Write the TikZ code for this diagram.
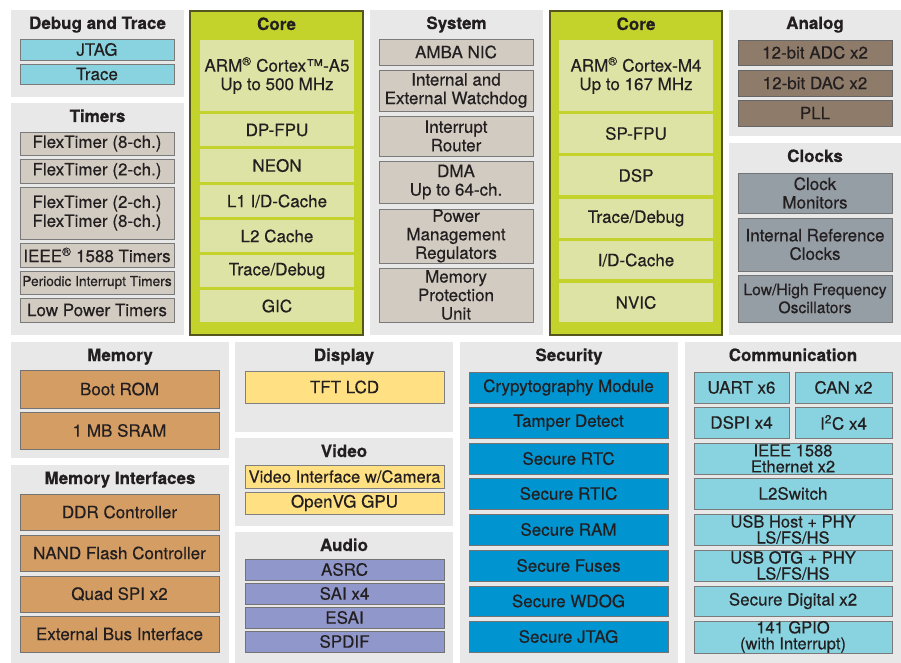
\documentclass[tikz,border=0pt]{standalone}
\usepackage{fontspec}
\setmainfont{TeX Gyre Heros}[FakeBold=0.4]
\definecolor{panelgray}{HTML}{E8E8E8}
\definecolor{ink}{HTML}{231F20}
\definecolor{boxline}{HTML}{7A7A7A}
\definecolor{cyanc}{HTML}{88D3DF}
\definecolor{taupe}{HTML}{D2CBC2}
\definecolor{coregreen}{HTML}{C4D22C}
\definecolor{corelight}{HTML}{DDE3A5}
\definecolor{coreline}{HTML}{55551E}
\definecolor{anabrown}{HTML}{8E7B69}
\definecolor{clkgray}{HTML}{959DA5}
\definecolor{memorange}{HTML}{D49D64}
\definecolor{dispyellow}{HTML}{FFE183}
\definecolor{audpurple}{HTML}{9097CB}
\definecolor{secblue}{HTML}{0094D0}

\begin{document}
\begin{tikzpicture}[x=1pt,y=-1pt,
  cell/.style n args={4}{at={(#1,#2)},anchor=north west,minimum width={#3-#1},minimum height={#4-#2}},
  panel/.style={fill=panelgray,inner sep=0,outer sep=0},
  core/.style={panel,fill=coregreen,draw=coreline,line width=1.2pt},
  head/.style={anchor=base,text=ink,font=\bfseries\fontsize{17}{18}\selectfont},
  box/.style={draw=boxline,line width=0.6pt,inner sep=0,outer sep=0,align=center,text=ink,
    font=\fontsize{17}{18.5}\selectfont},
  tight/.style={font=\fontsize{16.5}{16}\selectfont},
  cyanbox/.style={box,fill=cyanc},
  taupebox/.style={box,fill=taupe},
  corebox/.style={box,draw=none,fill=corelight},
  anabox/.style={box,fill=anabrown,draw=black!60},
  clkbox/.style={box,fill=clkgray,draw=black!55},
  membox/.style={box,fill=memorange,draw=black!55},
  dispbox/.style={box,fill=dispyellow,draw=black!50},
  audbox/.style={box,fill=audpurple,draw=black!55},
  secbox/.style={box,fill=secblue,draw=black!55},
]
\useasboundingbox (0,0) rectangle (901,663);

% top row panels
\node[panel,cell={11}{10}{184}{97}] (pDebug) {};
\node[panel,cell={11}{103}{184}{335}] (pTimers) {};
\node[core,cell={190}{11}{363}{335}] (pCoreA) {};
\node[panel,cell={370}{10}{543}{335}] (pSystem) {};
\node[core,cell={550}{11}{722}{335}] (pCoreM) {};
\node[panel,cell={729}{10}{901}{136}] (pAnalog) {};
\node[panel,cell={729}{143}{901}{335}] (pClocks) {};
% bottom row panels
\node[panel,cell={11}{342}{229}{458}] (pMemory) {};
\node[panel,cell={11}{465}{229}{663}] (pMemIf) {};
\node[panel,cell={235}{342}{453}{432}] (pDisplay) {};
\node[panel,cell={235}{438}{453}{526}] (pVideo) {};
\node[panel,cell={235}{532}{453}{663}] (pAudio) {};
\node[panel,cell={460}{342}{678}{663}] (pSecurity) {};
\node[panel,cell={685}{342}{901}{663}] (pComm) {};

\foreach \p/\t in {pDebug/Debug and Trace, pTimers/Timers, pCoreA/Core, pSystem/System,
  pCoreM/Core, pAnalog/Analog, pClocks/Clocks, pMemory/Memory, pMemIf/Memory Interfaces,
  pDisplay/Display, pVideo/Video, pAudio/Audio, pSecurity/Security, pComm/Communication}
  \node[head] (t\p) at ([yshift=-19pt]\p.north) {\t};

% Debug and Trace
\node[cyanbox,cell={20}{39}{174}{60}] (jtag) {JTAG};
\node[cyanbox,cell={20}{64}{174}{84}] (trace) {Trace};

% Timers
\node[taupebox,cell={20}{132}{174}{155}] (ftA) {FlexTimer (8-ch.)};
\node[taupebox,cell={20}{159}{174}{183}] (ftB) {FlexTimer (2-ch.)};
\node[taupebox,cell={20}{187}{174}{239},font=\fontsize{17}{19}\selectfont] (ftC) {FlexTimer (2-ch.)\\FlexTimer (8-ch.)};
\node[taupebox,cell={20}{243}{174}{267}] (ieeetmr) {IEEE\textsuperscript{®} 1588 Timers};
\node[taupebox,cell={20}{271}{174}{294},font=\fontsize{13.7}{15}\selectfont] (pit) {Periodic Interrupt Timers};
\node[taupebox,cell={20}{298}{174}{322}] (lpt) {Low Power Timers};

% Core A5
\node[corebox,cell={200}{40}{354}{111}] (a5) {ARM\textsuperscript{®} Cortex™-A5\\Up to 500 MHz};
\node[corebox,cell={200}{114}{354}{146}] (dpfpu) {DP-FPU};
\node[corebox,cell={200}{149}{354}{182}] (neon) {NEON};
\node[corebox,cell={200}{185}{354}{217}] (lcache) {L1 I/D-Cache};
\node[corebox,cell={200}{220}{354}{252}] (ltwo) {L2 Cache};
\node[corebox,cell={200}{255}{354}{287}] (tdA) {Trace/Debug};
\node[corebox,cell={200}{290}{354}{322}] (gic) {GIC};

% System
\node[taupebox,cell={379}{39}{533}{65}] (amba) {AMBA NIC};
\node[taupebox,cell={379}{70}{533}{111}] (wdog) {Internal and\\External Watchdog};
\node[taupebox,cell={379}{116}{533}{156}] (irouter) {Interrupt\\Router};
\node[taupebox,cell={379}{161}{533}{203}] (dma) {DMA\\Up to 64-ch.};
\node[taupebox,cell={379}{209}{533}{263}] (pmr) {Power\\Management\\Regulators};
\node[taupebox,cell={379}{268}{533}{322}] (mpu) {Memory\\Protection\\Unit};

% Core M4
\node[corebox,cell={559}{40}{713}{111}] (m4) {ARM\textsuperscript{®} Cortex-M4\\Up to 167 MHz};
\node[corebox,cell={559}{114}{713}{153}] (spfpu) {SP-FPU};
\node[corebox,cell={559}{156}{713}{195}] (dsp) {DSP};
\node[corebox,cell={559}{199}{713}{238}] (tdM) {Trace/Debug};
\node[corebox,cell={559}{241}{713}{279}] (idcache) {I/D-Cache};
\node[corebox,cell={559}{283}{713}{322}] (nvic) {NVIC};

% Analog and Clocks
\node[anabox,cell={738}{40}{892}{65}] (adc) {12-bit ADC x2};
\node[anabox,cell={738}{70}{892}{96}] (dac) {12-bit DAC x2};
\node[anabox,cell={738}{100}{892}{126}] (pll) {PLL};
\node[clkbox,cell={738}{173}{892}{213}] (cmon) {Clock\\Monitors};
\node[clkbox,cell={738}{218}{892}{271}] (irc) {Internal Reference\\Clocks};
\node[clkbox,cell={738}{275}{892}{322},font=\fontsize{15.7}{18}\selectfont] (osc) {Low/High Frequency\\Oscillators};

% Memory and Memory Interfaces
\node[membox,cell={20}{370}{219}{408}] (brom) {Boot ROM};
\node[membox,cell={20}{412}{219}{449}] (sram) {1 MB SRAM};
\node[membox,cell={20}{494}{219}{530}] (ddr) {DDR Controller};
\node[membox,cell={20}{535}{219}{571}] (nand) {NAND Flash Controller};
\node[membox,cell={20}{576}{219}{612}] (qspi) {Quad SPI x2};
\node[membox,cell={20}{616}{219}{652}] (ebi) {External Bus Interface};

% Display, Video, Audio
\node[dispbox,cell={245}{371}{444}{403}] (tft) {TFT LCD};
\node[dispbox,cell={245}{465}{444}{488},font=\fontsize{16.6}{18}\selectfont] (viu) {Video Interface w/Camera};
\node[dispbox,cell={245}{492}{444}{514}] (gpu) {OpenVG GPU};
\foreach \n/\ya/\yb/\t in {asrc/559/580/ASRC, sai/583/604/SAI x4, esai/607/628/ESAI, spdif/631/652/SPDIF}
  \node[audbox,cell={245}{\ya}{444}{\yb}] (\n) {\t};

% Security
\foreach \n/\ya/\yb/\t in {crypto/372/403/Crypytography Module, tamper/407/438/Tamper Detect,
  srtc/443/474/Secure RTC, srtic/478/509/Secure RTIC, sram/514/545/Secure RAM,
  sfuse/550/581/Secure Fuses, swdog/586/616/Secure WDOG, sjtag/621/652/Secure JTAG}
  \node[secbox,cell={469}{\ya}{668}{\yb}] (\n) {\t};

% Communication
\node[cyanbox,cell={694}{372}{789}{403}] (uart) {UART x6};
\node[cyanbox,cell={795}{372}{892}{403}] (can) {CAN x2};
\node[cyanbox,cell={694}{407}{789}{438}] (dspi) {DSPI x4};
\node[cyanbox,cell={795}{407}{892}{438}] (iic) {I\textsuperscript{2}C x4};
\node[cyanbox,tight,cell={694}{443}{892}{474}] (enet) {IEEE 1588\\Ethernet x2};
\node[cyanbox,cell={694}{478}{892}{509}] (ltsw) {L2Switch};
\node[cyanbox,tight,cell={694}{514}{892}{545}] (usbh) {USB Host + PHY\\LS/FS/HS};
\node[cyanbox,tight,cell={694}{550}{892}{581}] (usbo) {USB OTG + PHY\\LS/FS/HS};
\node[cyanbox,cell={694}{586}{892}{616}] (sdhc) {Secure Digital x2};
\node[cyanbox,tight,cell={694}{621}{892}{652}] (gpio) {141 GPIO\\(with Interrupt)};
\end{tikzpicture}
\end{document}
